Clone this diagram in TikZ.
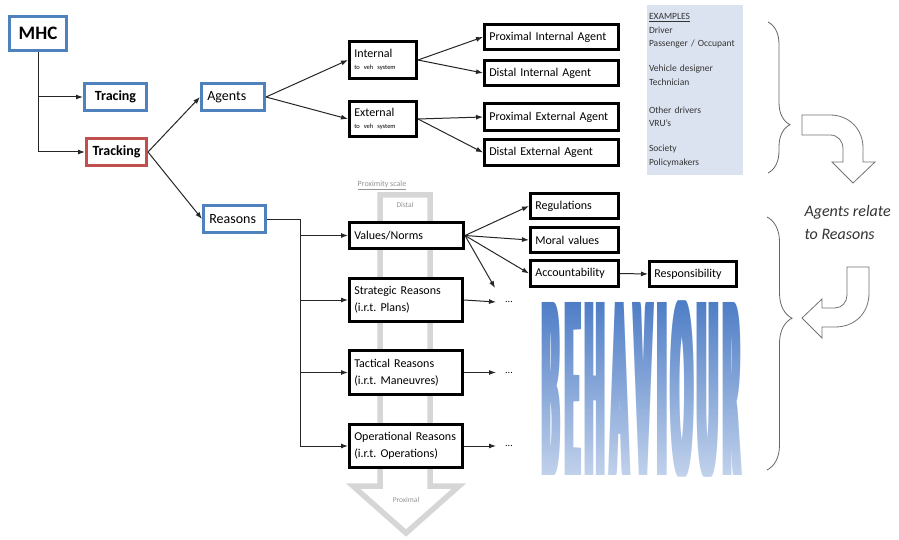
\documentclass[tikz,border=0pt]{standalone}
\usepackage{fontspec}
\setmainfont{Carlito}
\usepackage{graphicx}
\usepackage{tikz}
\usetikzlibrary{arrows.meta,calc,decorations.pathreplacing,fadings}
\definecolor{mhcblue}{RGB}{79,129,189}
\definecolor{mhcred}{RGB}{192,80,77}
\definecolor{exfill}{RGB}{220,227,240}
\definecolor{scalegray}{RGB}{214,214,214}
\definecolor{behtop}{RGB}{79,126,199}
\newcommand{\bsp}{\hspace{9pt}}
\newcommand{\behword}{\scalebox{0.72}[6.67]{B\bsp E\bsp H\bsp A\bsp V\bsp I\bsp O\bsp U\bsp R}}
\frenchspacing

\begin{document}
\begin{tikzpicture}[x=1pt,y=-1pt,
  font=\fontsize{12}{14.4}\selectfont,
  conn/.style={draw=black!85, line width=1pt, -{Latex[length=7pt,width=5pt]}},
  line/.style={draw=black!85, line width=1pt},
  bluebox/.style={draw=mhcblue, line width=2.6pt, fill=white, inner xsep=6pt, minimum width=#1, font=\fontsize{14}{16}\selectfont},
  redbox/.style={bluebox=#1, draw=mhcred},
  blkbox/.style={draw=black, line width=2.6pt, fill=white, inner xsep=5pt, text width=#1, align=left},
  behtext/.style={inner sep=0pt, font=\fontsize{40}{40}\selectfont\bfseries},
  bracestyle/.style={draw=black!60, line width=0.8pt, decorate},
  bentarrow/.style={draw=black!55, line width=0.8pt, fill=white, line join=miter},
  greytext/.style={text=black!42, inner sep=1pt}]

\fill[white] (0,0) rectangle (899,540);
\useasboundingbox (0,0) rectangle (899,540);

\draw[scalegray, line width=5.5pt, fill=white] (380,195) -- (380,486) -- (353,486) -- (406,533) -- (459,486) -- (430,486) -- (430,195) -- cycle;
\node (proxlabel) at (382,185) [greytext, font=\fontsize{8}{9}\selectfont] {\underline{Proximity scale}};
\node (distal) at (405,205) [greytext, font=\fontsize{7.5}{9}\selectfont] {Distal};
\node (proximal) at (406,500) [greytext, font=\fontsize{7.5}{9}\selectfont] {Proximal};

\node (mhc) at (38,33.5) [bluebox=57.4, minimum height=34.4, font=\fontsize{19}{21}\selectfont\bfseries] {MHC};
\node (tracing) at (115.5,97) [bluebox=62.4, minimum height=27.4, font=\fontsize{14}{16}\selectfont\bfseries] {Tracing};
\node (tracking) at (116.5,152) [redbox=60.4, minimum height=27.4, font=\fontsize{14}{16}\selectfont\bfseries] {Tracking};
\node (agents) at (233,97) [bluebox=63.4, minimum height=27.4, text width=51.4, align=left] {Agents};
\node (reasons) at (234.5,219) [bluebox=62.4, minimum height=27.4, text width=50.4, align=left] {Reasons};

\node (internal) at (383,60) [blkbox=57.4, minimum height=37.4] {Internal\\[-2pt]{\fontsize{6.5}{8}\selectfont to veh system}};
\node (external) at (383,119) [blkbox=57.4, minimum height=35.4] {External\\[-2pt]{\fontsize{6.5}{8}\selectfont to veh system}};
\node (pia) at (551.5,37) [blkbox=124.4, minimum height=25.4] {Proximal Internal Agent};
\node (dia) at (551.5,73) [blkbox=124.4, minimum height=25.4] {Distal Internal Agent};
\node (pea) at (551.5,117) [blkbox=124.4, minimum height=27.4] {Proximal External Agent};
\node (dea) at (551.5,152.5) [blkbox=124.4, minimum height=26.4] {Distal External Agent};

\node (values) at (406.5,235.5) [blkbox=104.4, minimum height=26.4] {Values/Norms};
\node (strategic) at (406,300) [blkbox=103.4, minimum height=43.4, font=\fontsize{12}{17}\selectfont] {Strategic Reasons\\(i.r.t. Plans)};
\node (tactical) at (406,372.5) [blkbox=103.4, minimum height=44.4, font=\fontsize{12}{17}\selectfont] {Tactical Reasons\\(i.r.t. Maneuvres)};
\node (operational) at (406,446) [blkbox=103.4, minimum height=43.4, font=\fontsize{12}{17}\selectfont] {Operational Reasons\\(i.r.t. Operations)};
\node (regul) at (574.5,206) [blkbox=78.4, minimum height=25.4] {Regulations};
\node (moral) at (574.5,240) [blkbox=78.4, minimum height=25.4] {Moral values};
\node (account) at (574.5,273.5) [blkbox=78.4, minimum height=26.4] {Accountability};
\node (resp) at (693,274) [blkbox=77.4, minimum height=25.4] {Responsibility};

\node (sdots) at (509,302) [inner xsep=9pt, font=\fontsize{10}{12}\selectfont] {...};
\node (tdots) at (509,372.5) [inner xsep=9pt, font=\fontsize{10}{12}\selectfont] {...};
\node (odots) at (509,446) [inner xsep=9pt, font=\fontsize{10}{12}\selectfont] {...};
\coordinate (vmore) at (495,288);
\coordinate (rsplit) at (300,219);

\draw[conn] (mhc.south) |- (tracing.west);
\draw[conn] (mhc.south) |- (tracking.west);
\draw[conn] (tracking.east) -- (agents.west);
\draw[conn] (tracking.east) -- (reasons.west);
\draw[conn] (agents.east) -- (internal.west);
\draw[conn] (agents.east) -- (external.west);
\draw[conn] (internal.east) -- (pia.west);
\draw[conn] (internal.east) -- (dia.west);
\draw[conn] (external.east) -- (pea.west);
\draw[conn] (external.east) -- (dea.west);

\draw[line] (reasons.east) -- (rsplit);
\draw[conn] (rsplit) |- (values.west);
\draw[conn] (rsplit) |- (strategic.west);
\draw[conn] (rsplit) |- (tactical.west);
\draw[conn] (rsplit) |- (operational.west);
\draw[conn] (values.east) -- (regul.west);
\draw[conn] (values.east) -- (moral.west);
\draw[conn] (values.east) -- (account.west);
\draw[conn] (values.east) -- (vmore);
\draw[conn] (account.east) -- (resp.west);
\draw[conn] (strategic.east) -- (sdots.west);
\draw[conn] (tactical.east) -- (tdots.west);
\draw[conn] (operational.east) -- (odots.west);

\node (examples) at (695,90) [fill=exfill, minimum width=96, minimum height=170, text width=92, inner xsep=2pt, align=left, text=black!80, font=\fontsize{9.5}{13.7}\selectfont] {\underline{EXAMPLES}\\
Driver\\
Passenger / Occupant\\[11pt]
Vehicle designer\\
Technician\\[14pt]
Other drivers\\
VRU’s\\[11pt]
Society\\
Policymakers};

\draw[bracestyle, decoration={brace, amplitude=22pt, aspect=0.68}] (768,22) -- (768,173);
\draw[bracestyle, decoration={brace, amplitude=25pt, aspect=0.4}] (767,217) -- (767,470);

\draw[bentarrow] (802,115) -- (830,115) .. controls (849,115) and (863,129) .. (863,148) -- (863,162) -- (875,162) -- (853,183) -- (832,162) -- (843,162) -- (843,149) .. controls (843,141) and (838,135) .. (830,135) -- (802,135) -- cycle;
\draw[bentarrow] (847,267) -- (869,267) -- (869,293) .. controls (869,313) and (855,327) .. (835,327) -- (822,327) -- (822,338) -- (802,318) -- (822,299) -- (822,308) -- (835,308) .. controls (842,308) and (847,302) .. (847,295) -- cycle;

\node (relate) at (801,223) [anchor=west, align=left, text=black!80, font=\fontsize{16}{23}\selectfont\itshape] {Agents relate\\to Reasons};

\foreach \d in {0,1.8,3.6,5.4}
  \node (behav) at (638.8+\d,389) [behtext, text=behtop] {\behword};
\fill[white, path fading=north, fill opacity=0.66] (530,302) rectangle (752,477);

\end{tikzpicture}
\end{document}
